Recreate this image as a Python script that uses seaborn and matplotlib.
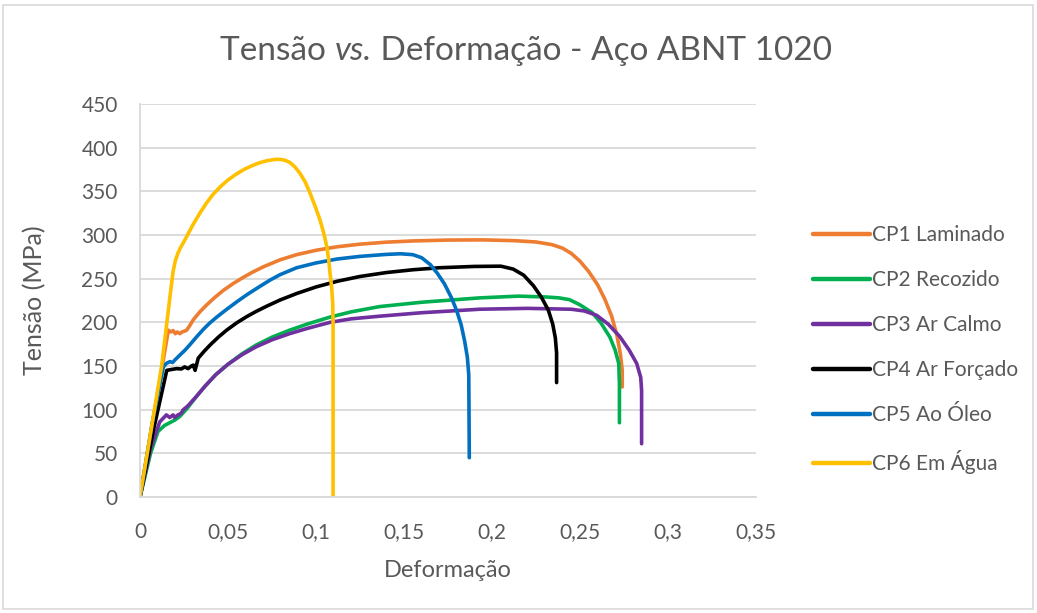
import numpy as np
import pandas as pd
import matplotlib
matplotlib.use("Agg")
import matplotlib.pyplot as plt
from matplotlib.patches import Rectangle
import seaborn as sns

# ---- stress-strain data (strain [-], stress [MPa]) ----
series_names = ["CP1 Laminado", "CP2 Recozido", "CP3 Ar Calmo",
                "CP4 Ar Forçado", "CP5 Ao Óleo", "CP6 Em Água"]

cp1_strain = [0, 0.0161, 0.0175, 0.0188, 0.0201, 0.0212, 0.0226, 0.0239, 0.0254, 0.0265,
              0.0282, 0.0303, 0.034, 0.0379, 0.0425, 0.0473, 0.053, 0.0587, 0.064, 0.070,
              0.0795, 0.089, 0.100, 0.112, 0.125, 0.140, 0.155, 0.175, 0.195, 0.213,
              0.225, 0.234, 0.240, 0.245, 0.250, 0.255, 0.260, 0.264, 0.268, 0.271,
              0.273, 0.274, 0.274]
cp1_stress = [0, 191, 189, 190.5, 187, 189, 187, 189, 190, 191,
              196, 203, 212, 220, 228.5, 236.5, 244.5, 251.5, 257.5, 263.5,
              271.5, 277.5, 282.5, 286.5, 289.5, 291.8, 293.2, 294.2, 294.4, 293.5,
              292, 289, 285, 279, 270, 258, 243, 227, 207, 185,
              163, 145, 126]

cp2_strain = [0, 0.006, 0.0102, 0.014, 0.0197, 0.0225, 0.027, 0.032, 0.037, 0.043,
              0.050, 0.058, 0.066, 0.075, 0.085, 0.095, 0.108, 0.120, 0.136, 0.160,
              0.193, 0.215, 0.231, 0.238, 0.244, 0.250, 0.257, 0.262, 0.267, 0.270,
              0.272, 0.2724, 0.2724]
cp2_stress = [0, 50, 75, 82, 88, 92, 102, 115, 127, 140,
              152, 164, 174, 183, 191, 198, 206, 212, 218, 223,
              228, 230, 229, 228, 226, 220, 211, 199, 183, 168,
              153, 130, 85]

cp3_strain = [0, 0.006, 0.0112, 0.0131, 0.015, 0.0169, 0.0188, 0.0197, 0.0216, 0.0235,
              0.0244, 0.027, 0.032, 0.037, 0.043, 0.050, 0.058, 0.066, 0.075, 0.085,
              0.095, 0.108, 0.120, 0.136, 0.160, 0.193, 0.220, 0.245, 0.2525, 0.2595,
              0.266, 0.2727, 0.278, 0.2822, 0.2845, 0.285, 0.285]
cp3_stress = [0, 55, 86, 90, 94, 91, 94, 91, 94, 96,
              99.6, 104, 115, 127, 140, 152, 163, 172, 180, 187,
              193, 200, 204, 207, 211, 215, 216, 215, 213, 208,
              198, 183.5, 168, 153, 137, 122, 61]

cp4_strain = [0, 0.008, 0.013, 0.0152, 0.0178, 0.0208, 0.0235, 0.0254, 0.0273, 0.0292,
              0.0303, 0.0313, 0.0331, 0.0365, 0.0398, 0.0445, 0.0492, 0.055, 0.0606, 0.066,
              0.072, 0.0795, 0.089, 0.100, 0.112, 0.125, 0.140, 0.155, 0.170, 0.190,
              0.205, 0.212, 0.218, 0.2235, 0.228, 0.232, 0.2345, 0.236, 0.2367, 0.2367]
cp4_stress = [0, 80, 125, 145, 146, 147, 146.6, 149, 147, 150,
              151, 145, 159, 167, 174, 183, 191, 199.5, 206.5, 212.5,
              218.5, 225.5, 233, 240.5, 247, 252.5, 257, 260.2, 262.5, 264,
              264.3, 261, 254, 242, 229, 214, 198, 182, 165, 131]

cp5_strain = [0, 0.007, 0.0133, 0.015, 0.017, 0.0185, 0.0199, 0.0227, 0.0255, 0.0284,
              0.032, 0.036, 0.0398, 0.0436, 0.049, 0.055, 0.061, 0.068, 0.074, 0.0795,
              0.089, 0.100, 0.112, 0.125, 0.140, 0.148, 0.155, 0.160, 0.165, 0.169,
              0.173, 0.177, 0.180, 0.1825, 0.1845, 0.186, 0.1868, 0.1871]
cp5_stress = [0, 85, 149, 153, 155, 154, 157, 162.6, 168, 174.5,
              183, 192, 199.5, 206, 214.5, 223.5, 232, 241, 248.5, 254.5,
              262.5, 268, 272.5, 275.5, 277.8, 278.5, 277.5, 274, 266, 256,
              244, 228, 213, 197, 178, 160, 140, 45]

cp6_strain = [0, 0.0123, 0.017, 0.0188, 0.0200, 0.0215, 0.023, 0.0246, 0.0275, 0.0303,
              0.034, 0.0379, 0.0415, 0.0455, 0.050, 0.0549, 0.0595, 0.0644, 0.068, 0.072,
              0.0755, 0.0777, 0.080, 0.0825, 0.0852, 0.088, 0.0909, 0.0938, 0.0966, 0.0995,
              0.1023, 0.1043, 0.1061, 0.1072, 0.108, 0.1089, 0.1095, 0.1097, 0.1097]
cp6_stress = [0, 150, 229, 258, 270, 279, 285.5, 291, 302, 312.5,
              325, 337, 346.5, 355, 363, 370, 375.5, 380, 382.8, 385,
              386.2, 386.7, 386.5, 385.5, 383, 378, 370.6, 361, 348, 333,
              317, 303, 287, 272, 256, 240, 222, 200, 0]

strains = [cp1_strain, cp2_strain, cp3_strain, cp4_strain, cp5_strain, cp6_strain]
stresses = [cp1_stress, cp2_stress, cp3_stress, cp4_stress, cp5_stress, cp6_stress]

x_ticks = [0, 0.05, 0.10, 0.15, 0.20, 0.25, 0.30, 0.35]
x_tick_labels = ["0", "0,05", "0,1", "0,15", "0,2", "0,25", "0,3", "0,35"]
y_ticks = [0, 50, 100, 150, 200, 250, 300, 350, 400, 450]

colors = ["#ED7D31", "#00B050", "#7030A0", "#000000", "#0070C0", "#FFC000"]

frames = []
for name, sx, sy in zip(series_names, strains, stresses):
    frames.append(pd.DataFrame({"Deformação": sx, "Tensão": sy, "Série": name}))
df = pd.concat(frames, ignore_index=True)

sns.set_theme(style="white")
plt.rcParams["font.family"] = ["Lato", "DejaVu Sans"]
text_color = "#595959"
grid_color = "#D9D9D9"

fig = plt.figure(figsize=(10.37, 6.13), dpi=100)
ax = fig.add_axes([140 / 1037, 116 / 613, 616 / 1037, 393 / 613])

for name, c in zip(series_names, colors):
    sub = df[df["Série"] == name]
    sns.lineplot(data=sub, x="Deformação", y="Tensão", sort=False, estimator=None,
                 color=c, linewidth=2.6, ax=ax, label=name,
                 solid_capstyle="round", solid_joinstyle="round")

ax.set_xlim(0, 0.35)
ax.set_ylim(0, 450)
ax.set_xticks(x_ticks)
ax.set_xticklabels(x_tick_labels)
ax.set_yticks(y_ticks)
ax.set_yticklabels([str(v) for v in y_ticks])
ax.tick_params(axis="both", length=0, labelsize=15, labelcolor=text_color)
ax.tick_params(axis="y", pad=16)
ax.tick_params(axis="x", pad=18)
ax.yaxis.grid(True, color=grid_color, linewidth=1.3)
ax.xaxis.grid(False)
for side in ["top", "right"]:
    ax.spines[side].set_visible(False)
for side in ["left", "bottom"]:
    ax.spines[side].set_color(grid_color)
    ax.spines[side].set_linewidth(1.3)

ax.set_xlabel("Deformação", fontsize=17, color=text_color, labelpad=13)
ax.set_ylabel("Tensão (MPa)", fontsize=18, color=text_color, labelpad=25)

# title assembled from pieces so that "vs." can be italic
title_parts = [("Tensão ", "normal"), ("vs.", "italic"),
               (" Deformação - Aço ABNT 1020", "normal")]
renderer = fig.canvas.get_renderer()
pieces = []
for txt, style in title_parts:
    t = fig.text(0, 1 - 51 / 613, txt, ha="left", va="center", fontsize=24,
                 color=text_color, style=style)
    pieces.append(t)
widths = [p.get_window_extent(renderer).width for p in pieces]
x0 = 526 - sum(widths) / 2
for p, w in zip(pieces, widths):
    p.set_x(x0 / 1037)
    x0 += w

leg = ax.legend(loc="upper left", bbox_to_anchor=(813 / 1037, 1 - 225 / 613),
                bbox_transform=fig.transFigure, frameon=False, fontsize=15,
                handlelength=2.75, handletextpad=0.1, labelspacing=1.2,
                borderpad=0, borderaxespad=0)
for t in leg.get_texts():
    t.set_color(text_color)
for h in leg.get_lines():
    h.set_linewidth(3.2)

fig.patches.append(Rectangle((3 / 1037, 4 / 613), 1030 / 1037, 604 / 613,
                             transform=fig.transFigure, fill=False,
                             edgecolor=grid_color, linewidth=1.2))

fig.savefig("out.png", dpi=100)
